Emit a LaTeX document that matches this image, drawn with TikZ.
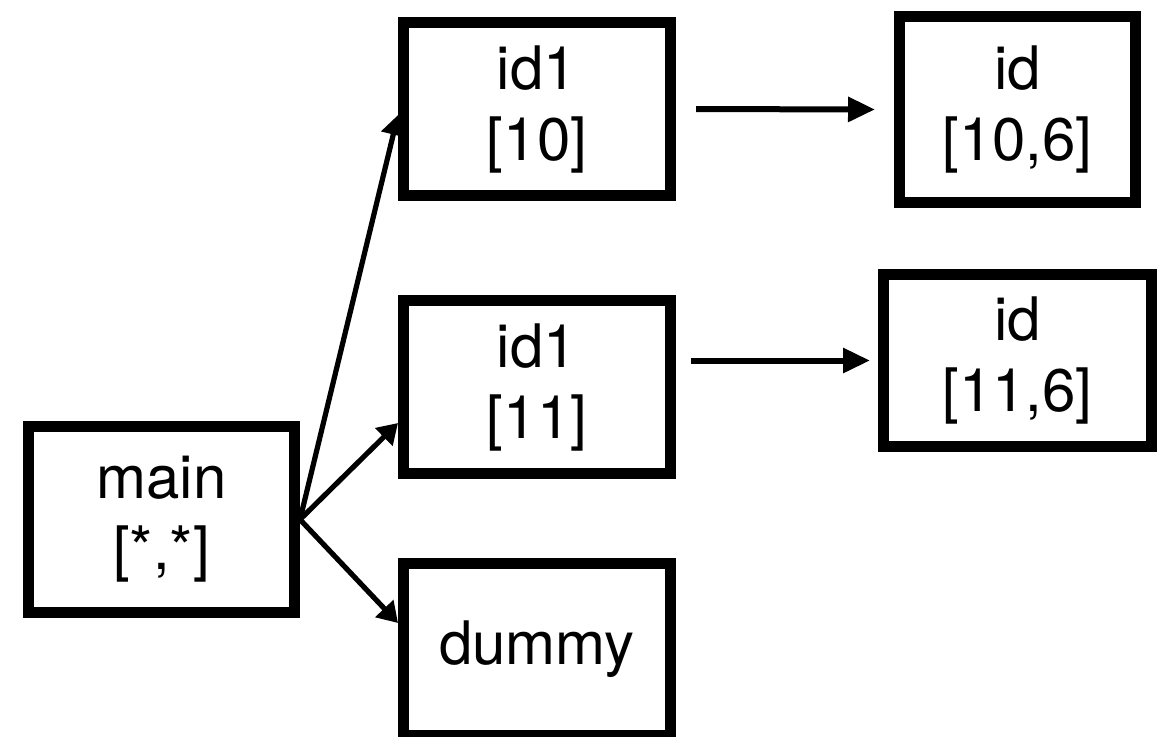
\documentclass[tikz,border=0pt]{standalone}
\usepackage{fontspec}
\setmainfont{TeX Gyre Heros}
\usetikzlibrary{arrows.meta}
\begin{document}
\begin{tikzpicture}[x=0.5pt,y=-0.5pt,
  box/.style={draw, line width=5.5pt, inner sep=0pt, align=center,
    font=\fontsize{30}{35.5}\selectfont},
  link/.style={line width=2.6pt, -{Triangle[length=10pt,width=12pt]}},
  flow/.style={line width=3pt, -{Triangle[length=13.5pt,width=12pt]}}]
\useasboundingbox (0,0) rectangle (1165,736);

% call tree
\node[box, minimum width=133pt, minimum height=93pt] (main) at (161.5,519.5) {main\\{[*,*]}};
\node[box, minimum width=133.5pt, minimum height=86.5pt] (id1a) at (537,109) {id1\\{[10]}};
\node[box, minimum width=133.5pt, minimum height=86.5pt] (id1b) at (537,387) {id1\\{[11]}};
\node[box, minimum width=133.5pt, minimum height=86pt] (dummy) at (537,649) {\raisebox{-4pt}{dummy}};
\node[box, minimum width=118pt, minimum height=93pt] (ida) at (1017.5,109.5) {id\\{[10,6]}};
\node[box, minimum width=134pt, minimum height=86pt] (idb) at (1017.5,360.5) {id\\{[11,6]}};

% calls from main
\draw[link] (main.east) -- ([yshift=-3pt]id1a.west);
\draw[link] (main.east) -- ([yshift=-18pt]id1b.west);
\draw[link] (main.east) -- ([yshift=13pt]dummy.west);

% calls from id1
\draw[flow, shorten <=10pt, shorten >=9.5pt] (id1a.east) -- (ida.west);
\draw[flow, shorten <=7.5pt, shorten >=4pt] (id1b.east |- idb.west) -- (idb.west);
\end{tikzpicture}
\end{document}
